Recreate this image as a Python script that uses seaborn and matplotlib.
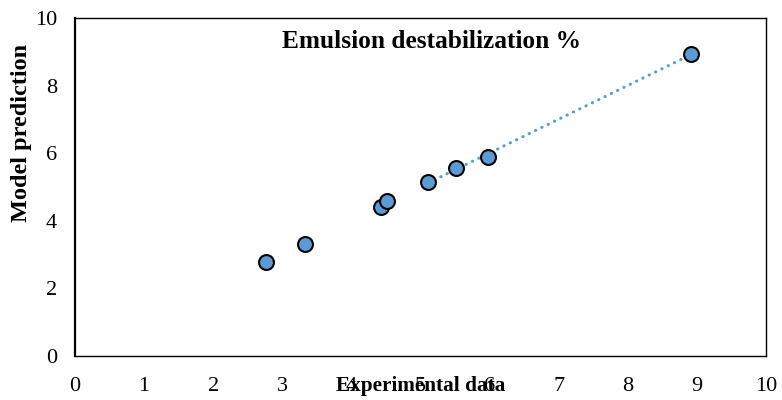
import matplotlib
matplotlib.use("Agg")
import matplotlib.pyplot as plt
import seaborn as sns
import numpy as np
import pandas as pd

experimental = [2.77, 3.33, 4.43, 4.52, 5.11, 5.52, 5.97, 8.91]
predicted = [2.77, 3.31, 4.40, 4.59, 5.16, 5.57, 5.88, 8.93]
trend_x = [5.11, 5.52, 5.97, 8.91]
trend_y = [5.16, 5.57, 5.88, 8.93]
ticks = [0, 1, 2, 3, 4, 5, 6, 7, 8, 9, 10]
yticks = [0, 2, 4, 6, 8, 10]

sns.set_theme(style="white")
plt.rcParams['font.family'] = ['Liberation Serif', 'DejaVu Serif']

df = pd.DataFrame({"Experimental data": experimental, "Model prediction": predicted})

fig = plt.figure(figsize=(7.82, 4.0), dpi=100)
ax = fig.add_axes([75/782, 1-356/400, 691/782, 338/400])

# trendline (linear fit of the upper points)
coef = np.polyfit(trend_x, trend_y, 1)
tx = np.array([min(trend_x), max(trend_x)])
ax.plot(tx, np.polyval(coef, tx), linestyle=(0, (0.1, 2.2)), dash_capstyle='round',
        color='#5B9BD5', linewidth=2.2, zorder=2)

sns.scatterplot(data=df, x="Experimental data", y="Model prediction", ax=ax,
                s=115, color='#5B9BD5', edgecolor='black', linewidth=1.5, zorder=3)

ax.set_xlim(0, 10)
ax.set_ylim(0, 10)
ax.set_xticks(ticks)
ax.set_yticks(yticks)
ax.tick_params(axis='both', length=0, labelsize=16, colors='black')
ax.tick_params(axis='x', pad=15)
ax.tick_params(axis='y', pad=13)

for side in ['top', 'right', 'bottom']:
    ax.spines[side].set_linewidth(1.0)
    ax.spines[side].set_color('black')
ax.spines['left'].set_linewidth(1.6)
ax.spines['left'].set_color('black')

ax.set_xlabel("Experimental data", fontsize=15.3, fontweight='bold', color='black')
ax.set_ylabel("Model prediction", fontsize=17.5, fontweight='bold', color='black')
ax.xaxis.set_label_coords(0.5, -0.06)
ax.yaxis.set_label_coords(-0.062, 0.661)

ax.set_title("Emulsion destabilization %", fontsize=18.3, fontweight='bold',
             x=0.5166, y=0.91, pad=0, color='black')

fig.savefig("out.png", dpi=100)
